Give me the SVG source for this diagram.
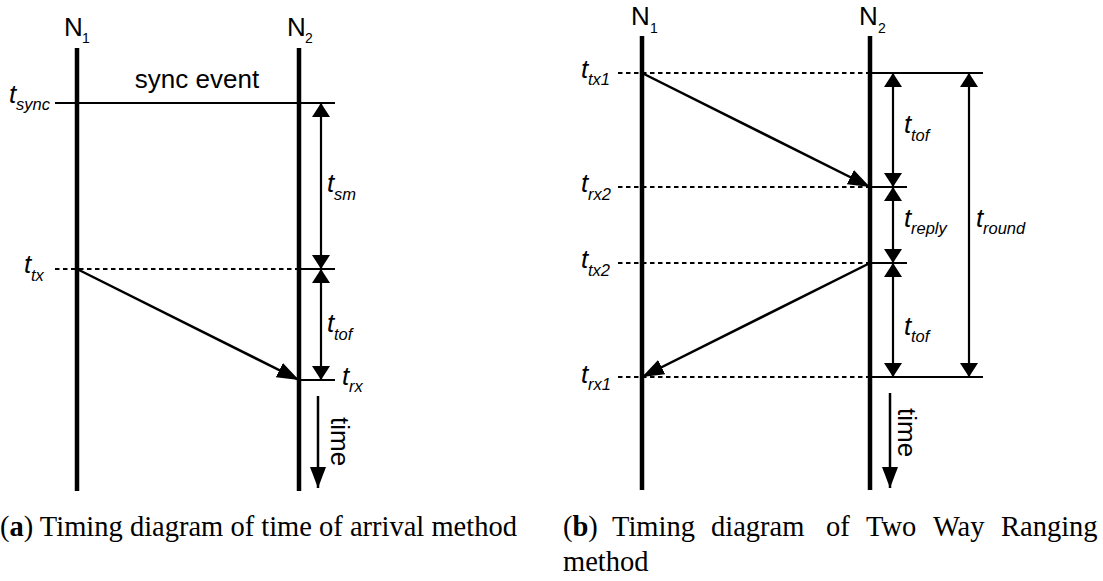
<svg xmlns="http://www.w3.org/2000/svg" width="1103" height="581" viewBox="0 0 1103 581">
<style>
.life{stroke:#000;stroke-width:4.5;fill:none}
.hl{stroke:#000;stroke-width:2.2;fill:none}
.dot{stroke:#000;stroke-width:2.2;stroke-dasharray:4.5 3.5;fill:none}
.msg{stroke:#000;stroke-width:2.5;fill:none;marker-end:url(#mh)}
.dim{stroke:#000;stroke-width:2.2;fill:none;marker-start:url(#dh);marker-end:url(#dh)}
.tim{stroke:#000;stroke-width:2.5;fill:none;marker-end:url(#th)}
.lbl{font-family:"Liberation Sans",Arial,sans-serif;fill:#000}
.n{font-size:26px}
.ns{font-size:14px}
.t{font-size:26px;font-style:italic}
.s{font-size:16.5px}
.cap{font-family:"Liberation Serif","Times New Roman",serif;font-size:28.5px;fill:#000}
</style>
<defs>
<marker id="dh" viewBox="0 0 14 18" refX="14" refY="9" markerWidth="14" markerHeight="18" markerUnits="userSpaceOnUse" orient="auto-start-reverse"><path d="M0,0 L14,9 L0,18 Z" fill="#000"/></marker>
<marker id="mh" viewBox="0 0 22 16" refX="22" refY="8" markerWidth="22" markerHeight="16" markerUnits="userSpaceOnUse" orient="auto"><path d="M0,0 L22,8 L0,16 Z" fill="#000"/></marker>
<marker id="th" viewBox="0 0 21 16" refX="21" refY="8" markerWidth="21" markerHeight="16" markerUnits="userSpaceOnUse" orient="auto"><path d="M0,0 L21,8 L0,16 Z" fill="#000"/></marker>
</defs>

<!-- Diagram (a) -->
<g id="a-N1">
<line class="life" x1="77" y1="48" x2="77" y2="491"/>
<text class="lbl n" x="64" y="36">N<tspan class="ns" x="82" y="43">1</tspan></text>
</g>
<g id="a-N2">
<line class="life" x1="299" y1="48" x2="299" y2="491"/>
<text class="lbl n" x="287" y="36">N<tspan class="ns" x="305" y="43">2</tspan></text>
</g>
<g id="a-sync">
<line class="hl" x1="55" y1="103" x2="335" y2="103"/>
<text class="lbl" x="197" y="88" font-size="26" text-anchor="middle">sync event</text>
<text class="lbl t" x="9" y="103">t<tspan class="s" x="16" y="110">sync</tspan></text>
</g>
<g id="a-tx">
<line class="dot" x1="55" y1="269" x2="299" y2="269"/>
<line class="hl" x1="299" y1="269" x2="335" y2="269"/>
<text class="lbl t" x="24" y="273">t<tspan class="s" x="31" y="281">tx</tspan></text>
</g>
<g id="a-rx">
<line class="hl" x1="299" y1="380" x2="335" y2="380"/>
<text class="lbl t" x="342" y="385">t<tspan class="s" x="349" y="392">rx</tspan></text>
</g>
<g id="a-labels">
<text class="lbl t" x="327" y="192">t<tspan class="s" x="334" y="200">sm</tspan></text>
<text class="lbl t" x="327" y="332">t<tspan class="s" x="334" y="340">tof</tspan></text>
<text class="lbl" font-size="26" transform="translate(331,417) rotate(90)">time</text>
</g>
<g id="a-connectors">
<line class="msg" x1="77" y1="269" x2="299" y2="380"/>
<line class="dim" x1="321" y1="103" x2="321" y2="269"/>
<line class="dim" x1="321" y1="269" x2="321" y2="380"/>
<line class="tim" x1="318" y1="396" x2="318" y2="488"/>
</g>

<!-- Diagram (b) -->
<g id="b-N1">
<line class="life" x1="642" y1="36" x2="642" y2="490"/>
<text class="lbl n" x="631" y="25">N<tspan class="ns" x="650" y="33">1</tspan></text>
</g>
<g id="b-N2">
<line class="life" x1="870" y1="36" x2="870" y2="490"/>
<text class="lbl n" x="859" y="25">N<tspan class="ns" x="878" y="33">2</tspan></text>
</g>
<g id="b-levels">
<line class="dot" x1="618" y1="73" x2="870" y2="73"/>
<line class="hl" x1="870" y1="73" x2="983" y2="73"/>
<line class="dot" x1="618" y1="187" x2="870" y2="187"/>
<line class="hl" x1="870" y1="187" x2="907" y2="187"/>
<line class="dot" x1="618" y1="263" x2="870" y2="263"/>
<line class="hl" x1="870" y1="263" x2="907" y2="263"/>
<line class="dot" x1="618" y1="377" x2="870" y2="377"/>
<line class="hl" x1="870" y1="377" x2="983" y2="377"/>
</g>
<g id="b-labels">
<text class="lbl t" x="581" y="78">t<tspan class="s" x="588" y="85">tx1</tspan></text>
<text class="lbl t" x="581" y="192">t<tspan class="s" x="588" y="200">rx2</tspan></text>
<text class="lbl t" x="581" y="268">t<tspan class="s" x="588" y="276">tx2</tspan></text>
<text class="lbl t" x="581" y="383">t<tspan class="s" x="588" y="390">rx1</tspan></text>
<text class="lbl t" x="904" y="133">t<tspan class="s" x="911" y="141">tof</tspan></text>
<text class="lbl t" x="904" y="227">t<tspan class="s" x="911" y="234">reply</tspan></text>
<text class="lbl t" x="976" y="227">t<tspan class="s" x="983" y="234">round</tspan></text>
<text class="lbl t" x="904" y="335">t<tspan class="s" x="911" y="342">tof</tspan></text>
<text class="lbl" font-size="26" transform="translate(898,408) rotate(90)">time</text>
</g>
<g id="b-connectors">
<line class="msg" x1="642" y1="73" x2="870" y2="187"/>
<line class="msg" x1="870" y1="263" x2="642" y2="377"/>
<line class="dim" x1="893" y1="73" x2="893" y2="187"/>
<line class="dim" x1="893" y1="187" x2="893" y2="263"/>
<line class="dim" x1="893" y1="263" x2="893" y2="377"/>
<line class="dim" x1="969" y1="73" x2="969" y2="377"/>
<line class="tim" x1="890" y1="393" x2="890" y2="488"/>
</g>

<!-- Captions -->
<g id="captions">
<text class="cap" x="0" y="536">(<tspan font-weight="bold">a</tspan>) Timing diagram of time of arrival method</text>
<text class="cap" y="536"><tspan x="563">(<tspan font-weight="bold">b</tspan>)</tspan><tspan x="612">Timing</tspan><tspan x="711">diagram</tspan><tspan x="826">of</tspan><tspan x="866">Two</tspan><tspan x="933">Way</tspan><tspan x="1001">Ranging</tspan></text>
<text class="cap" x="563" y="571">method</text>
</g>
</svg>
